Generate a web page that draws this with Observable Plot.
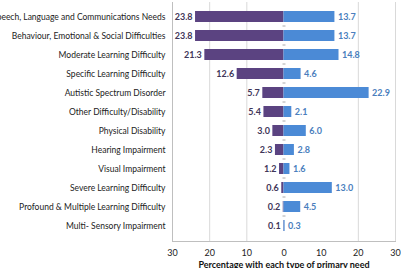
<!DOCTYPE html>
<html>
<head>
<meta charset="utf-8">
<script src="https://cdn.jsdelivr.net/npm/d3@7"></script>
<script src="https://cdn.jsdelivr.net/npm/@observablehq/plot@0.6"></script>
<style>
  html, body { margin: 0; padding: 0; background: #fff; }
  #chart svg { display: block; font-family: Lato, "Open Sans", sans-serif; }
  #chart g[aria-label="x-axis label"] text { font-weight: bold; fill: #111; }
</style>
</head>
<body>
<div id="chart"></div>
<script>
// Primary type of need, top to bottom
const needs = [
  "Speech, Language and Communications Needs",
  "Behaviour, Emotional & Social Difficulties",
  "Moderate Learning Difficulty",
  "Specific Learning Difficulty",
  "Autistic Spectrum Disorder",
  "Other Difficulty/Disability",
  "Physical Disability",
  "Hearing Impairment",
  "Visual Impairment",
  "Severe Learning Difficulty",
  "Profound & Multiple Learning Difficulty",
  "Multi- Sensory Impairment"
];
// Percentage of pupils at School Action Plus (drawn to the left)
const schoolActionPlus = [23.8, 23.8, 21.3, 12.6, 5.7, 5.4, 3.0, 2.3, 1.2, 0.6, 0.2, 0.1];
// Percentage of pupils with a Statement (drawn to the right)
const statement = [13.7, 13.7, 14.8, 4.6, 22.9, 2.1, 6.0, 2.8, 1.6, 13.0, 4.5, 0.3];
const seriesNames = ["School Action Plus", "Statement"];
const xTicks = [-30, -20, -10, 0, 10, 20, 30];
const gridTicks = [-20, -10, 20, 30];

const purple = "#5b4381";
const blue = "#4b8ad6";

const sap = needs.map((need, i) => ({need, value: schoolActionPlus[i]}));
const st = needs.map((need, i) => ({need, value: statement[i]}));
const fmt = d3.format(".1f");

const chart = Plot.plot({
  width: 401,
  height: 268,
  marginTop: 2,
  marginBottom: 27,
  marginLeft: 172,
  marginRight: 6,
  style: {fontSize: "9px", color: "#222"},
  x: {domain: [-30, 30]},
  y: {domain: needs, paddingInner: 0.4, paddingOuter: 0.2},
  marks: [
    Plot.ruleX(gridTicks, {stroke: "#d9d9d9"}),
    Plot.frame({anchor: "left", stroke: "#bfbfbf"}),
    Plot.frame({anchor: "bottom", stroke: "#bfbfbf"}),
    Plot.barX(sap, {x1: 0, x2: d => -d.value, y: "need", fill: purple}),
    Plot.barX(st, {x1: 0, x2: "value", y: "need", fill: blue}),
    // small category ticks along the zero line, between rows
    Plot.link(needs.slice(1), {x1: -0.4, x2: 0.4, y1: d => d, y2: d => d, dy: -10, stroke: "#aaa"}),
    Plot.text(sap, {
      x: d => -d.value, y: "need", text: d => fmt(d.value),
      textAnchor: "end", dx: -3, fill: "#3f3659", fontWeight: "bold"
    }),
    Plot.text(st, {
      x: "value", y: "need", text: d => fmt(d.value),
      textAnchor: "start", dx: 3, fill: "#4a7ebd", fontWeight: "bold"
    }),
    // series names written inside the top pair of bars
    Plot.text([seriesNames[0]], {
      x: -schoolActionPlus[0] / 2 - 0.5, y: needs[0], text: d => d,
      fill: "white", fontWeight: "bold", fontSize: 9.5
    }),
    Plot.text([seriesNames[1]], {
      x: statement[0] / 2 + 0.3, y: needs[0], text: d => d,
      fill: "white", fontWeight: "bold", fontSize: 9.5
    }),
    Plot.axisY({tickSize: 0, tickPadding: 7, label: null, fontSize: 8.5, color: "#222"}),
    Plot.axisX({
      ticks: xTicks, tickSize: 0, tickPadding: 8, tickFormat: d => Math.abs(d),
      label: "Percentage with each type of primary need",
      labelAnchor: "center", labelArrow: "none", labelOffset: 26
    })
  ]
});

document.getElementById("chart").appendChild(chart);
</script>
</body>
</html>
